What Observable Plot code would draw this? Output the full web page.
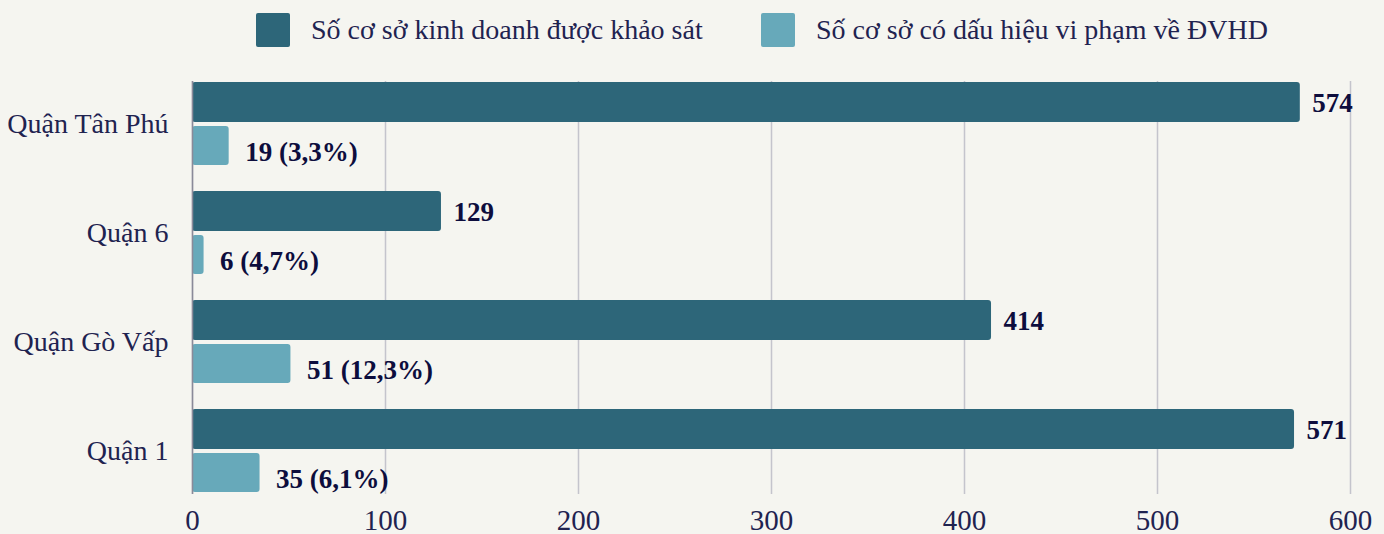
<!DOCTYPE html>
<html>
<head>
<meta charset="utf-8">
<script src="https://cdn.jsdelivr.net/npm/d3@7"></script>
<script src="https://cdn.jsdelivr.net/npm/@observablehq/plot@0.6"></script>
<style>
  html, body { margin: 0; padding: 0; background: #f5f5f0; }
  body { width: 1384px; height: 534px; overflow: hidden; font-family: "Liberation Serif", "Times New Roman", serif; }
  #legend { position: relative; height: 60px; width: 1384px; }
  .sw { position: absolute; top: 13px; width: 34px; height: 34px; border-radius: 2px; }
  .lt { position: absolute; top: 11px; font-size: 28px; line-height: 38px; color: #1f2350; white-space: nowrap; }
  #chart svg { display: block; overflow: visible; }
</style>
</head>
<body>
<div id="legend"></div>
<div id="chart"></div>
<script>
const districts = ["Quận Tân Phú", "Quận 6", "Quận Gò Vấp", "Quận 1"];
const surveyed = [574, 129, 414, 571];
const violations = [19, 6, 51, 35];
const seriesNames = ["Số cơ sở kinh doanh được khảo sát", "Số cơ sở có dấu hiệu vi phạm về ĐVHD"];
const seriesColors = ["#2d6679", "#67a9ba"];
const xTicks = [0, 100, 200, 300, 400, 500, 600];

// legend
const legend = document.getElementById("legend");
const legendPos = [{sw: 256, tx: 311}, {sw: 761, tx: 816}];
seriesNames.forEach((name, i) => {
  const s = document.createElement("div");
  s.className = "sw"; s.style.left = legendPos[i].sw + "px"; s.style.background = seriesColors[i];
  const t = document.createElement("div");
  t.className = "lt"; t.style.left = legendPos[i].tx + "px"; t.textContent = name;
  legend.appendChild(s); legend.appendChild(t);
});

const rows = districts.map((d, i) => ({
  district: d,
  surveyed: surveyed[i],
  violations: violations[i],
  pctLabel: `${violations[i]} (${(violations[i] / surveyed[i] * 100).toFixed(1).replace(".", ",")}%)`
}));

const chart = Plot.plot({
  width: 1384,
  height: 474,
  marginLeft: 192,
  marginRight: 34,
  marginTop: 21,
  marginBottom: 40,
  style: { background: "transparent", fontFamily: "Liberation Serif, Times New Roman, serif", color: "#1f2350" },
  x: { domain: [0, 600], ticks: xTicks, label: null },
  y: { domain: districts, paddingInner: 0.236, paddingOuter: 0, label: null },
  marks: [
    Plot.ruleX(xTicks, { stroke: "#c4c4cc", strokeWidth: 1.5 }),
    Plot.barX(rows, { y: "district", x: "surveyed", fill: seriesColors[0], insetBottom: 43, rx: 3 }),
    Plot.barX(rows, { y: "district", x: "violations", fill: seriesColors[1], insetTop: 44, rx: 3 }),
    Plot.ruleX([0], { stroke: "#8a8a99", strokeWidth: 1.5 }),
    Plot.text(rows, { y: "district", x: "surveyed", text: d => String(d.surveyed), textAnchor: "start", dx: 12, dy: -21, fontSize: 27, fontWeight: "bold", fill: "#0d0d3d" }),
    Plot.text(rows, { y: "district", x: "violations", text: "pctLabel", textAnchor: "start", dx: 16, dy: 28, fontSize: 27, fontWeight: "bold", fill: "#0d0d3d" }),
    Plot.axisX({ ticks: xTicks, tickSize: 0, tickPadding: 15, fontSize: 29, label: null }),
    Plot.axisY({ tickSize: 0, tickPadding: 24, fontSize: 28, label: null })
  ]
});
document.getElementById("chart").appendChild(chart);
</script>
</body>
</html>
